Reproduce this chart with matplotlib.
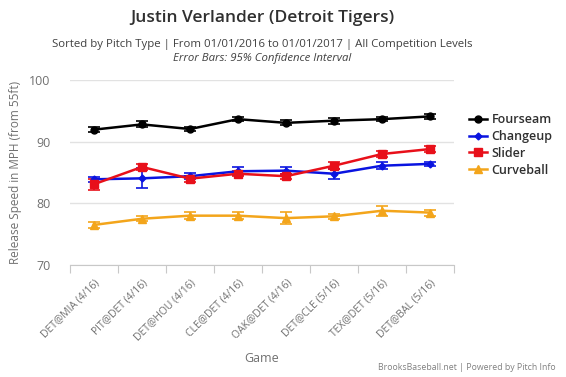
import numpy as np
import matplotlib
matplotlib.use("Agg")
import matplotlib.pyplot as plt

plt.rcParams['font.family'] = ['Open Sans', 'DejaVu Sans']

games = ["DET@MIA (4/16)", "PIT@DET (4/16)", "DET@HOU (4/16)", "CLE@DET (4/16)",
         "OAK@DET (4/16)", "DET@CLE (5/16)", "TEX@DET (5/16)", "DET@BAL (5/16)"]

fourseam = [91.95, 92.8, 92.05, 93.65, 93.05, 93.4, 93.65, 94.1]
fourseam_err = [0.4, 0.5, 0.4, 0.35, 0.4, 0.5, 0.35, 0.35]

changeup = [83.9, 84.05, 84.4, 85.2, 85.3, 84.8, 86.1, 86.4]
changeup_err = [0.45, 1.6, 0.5, 0.65, 0.6, 0.8, 0.6, 0.3]

slider = [83.1, 85.9, 84.0, 84.8, 84.4, 86.1, 88.0, 88.8]
slider_err = [0.9, 0.5, 0.5, 0.4, 0.4, 0.55, 0.5, 0.5]

curveball = [76.5, 77.5, 78.0, 78.0, 77.6, 77.9, 78.8, 78.5]
curveball_err = [0.5, 0.4, 0.6, 0.6, 1.0, 0.4, 0.8, 0.5]

series = [
    ("Fourseam", fourseam, fourseam_err, "#000000", "o", 5),
    ("Changeup", changeup, changeup_err, "#0a14e0", "D", 3.5),
    ("Slider", slider, slider_err, "#e8101a", "s", 5.5),
    ("Curveball", curveball, curveball_err, "#f3a51b", "^", 5.5),
]

fig = plt.figure(figsize=(5.66, 3.77), dpi=100)
ax = fig.add_axes([70 / 566, 1 - 265 / 377, 384 / 566, 185 / 377])

x = np.arange(len(games))
for name, vals, errs, col, mk, ms in series:
    ax.errorbar(x, vals, yerr=errs, color=col, marker=mk, markersize=ms,
                linewidth=1.8, elinewidth=1.2, capsize=4.5, capthick=1.2,
                label=name, zorder=3)

ax.set_xlim(-0.5, len(games) - 0.5)
ax.set_ylim(70, 100)
ax.set_yticks([70, 80, 90, 100])
ax.yaxis.grid(True, color="#e2e2e2", linewidth=1)
ax.set_axisbelow(True)
for s in ["top", "right", "left"]:
    ax.spines[s].set_visible(False)
ax.spines["bottom"].set_color("#c8c8c8")
ax.tick_params(axis="y", length=0, labelsize=9, labelcolor="#707070", pad=14)

ax.set_xticks(np.arange(-0.5, len(games)), minor=False)
ax.set_xticklabels([])
ax.tick_params(axis="x", which="major", length=6, color="#c8c8c8")
ax.set_xticks(x, minor=True)
ax.set_xticklabels(games, minor=True, rotation=45, ha="right",
                   rotation_mode="anchor", fontsize=7.5, color="#707070")
ax.tick_params(axis="x", which="minor", length=0, pad=9)

ax.set_xlabel("Game", fontsize=9, color="#707070")
ax.xaxis.set_label_coords(0.5, -0.47)
ax.set_ylabel("Release Speed in MPH (from 55ft)", fontsize=8.5, color="#707070")
ax.yaxis.set_label_coords(-0.125, 0.5)

fig.text(0.463, 1 - 18 / 377, "Justin Verlander (Detroit Tigers)", ha="center", va="center",
         fontsize=12.5, fontweight="semibold", color="#303030")
fig.text(0.463, 1 - 45 / 377,
         "Sorted by Pitch Type | From 01/01/2016 to 01/01/2017 | All Competition Levels",
         ha="center", va="center", fontsize=8.2, color="#404040")
fig.text(0.463, 1 - 59 / 377, "Error Bars: 95% Confidence Interval", ha="center", va="center",
         fontsize=8.2, style="italic", color="#404040")
fig.text(556 / 566, 1 - 368 / 377, "BrooksBaseball.net | Powered by Pitch Info",
         ha="right", va="center", fontsize=6.3, color="#808080")

handles = [plt.Line2D([], [], color=c, marker=m, markersize=ms, linewidth=1.8)
           for _, _, _, c, m, ms in series]
leg = fig.legend(handles, [s[0] for s in series], loc="upper left",
                 bbox_to_anchor=(458 / 566, 1 - 102 / 377), frameon=False,
                 fontsize=9, handlelength=1.4, handletextpad=0.4, labelspacing=0.3)
for t in leg.get_texts():
    t.set_color("#303030")
    t.set_fontweight("semibold")

fig.savefig("out.png", dpi=100)
